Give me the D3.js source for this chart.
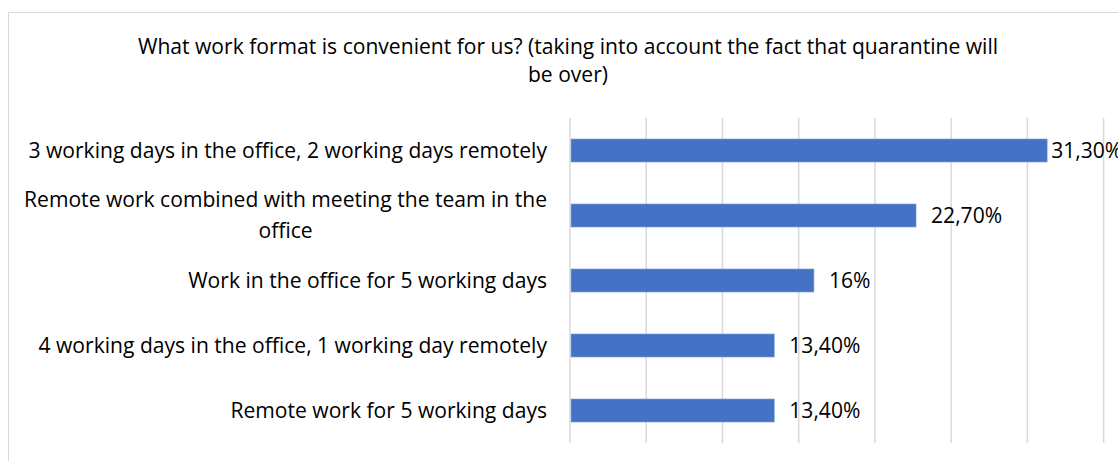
<!DOCTYPE html>
<html><head><meta charset="utf-8">
<script src="https://cdn.jsdelivr.net/npm/d3@7"></script>
<style>
html,body{margin:0;padding:0;background:#fff;}
svg{display:block;font-family:"Open Sans",Lato,sans-serif;}
</style></head>
<body><svg id="c" width="1118" height="461"></svg>
<script>
const titleLines = ["What work format is convenient for us? (taking into account the fact that quarantine will", "be over)"];
const categories = [
  ["3 working days in the office, 2 working days remotely"],
  ["Remote work combined with meeting the team in the", "office"],
  ["Work in the office for 5 working days"],
  ["4 working days in the office, 1 working day remotely"],
  ["Remote work for 5 working days"]
];
const values = [0.313, 0.227, 0.16, 0.134, 0.134];
const valueLabels = ["31,30%", "22,70%", "16%", "13,40%", "13,40%"];
const gridTicks = [0, 0.05, 0.10, 0.15, 0.20, 0.25, 0.30, 0.35];

const W = 1118, H = 461;
const svg = d3.select("#c");

// fit font size so the longest label matches the reference width
const probe = svg.append("text").attr("font-size", 20).text(categories[0][0]);
const fs = 20 * 519 / probe.node().getComputedTextLength();
probe.remove();

// chart frame
svg.append("path").attr("d", `M8.5,${H} V12.5 H${W}`).attr("fill","none").attr("stroke","#d9d9d9").attr("stroke-width",1);

// title
svg.append("text").attr("x", 568).attr("y", 47).attr("dy","0.35em").attr("text-anchor","middle")
  .attr("font-size", fs).attr("fill","#000")
  .selectAll("tspan").data(titleLines).join("tspan")
  .attr("x", 568).attr("dy", (d,i)=> i===0 ? "0.35em" : 28).text(d=>d);

const x = d3.scaleLinear().domain([0, 0.35]).range([570, 1103.6]);
const y = d3.scaleBand().domain(d3.range(categories.length)).range([118, 443]).paddingInner(0.645).paddingOuter(0.3225);

// gridlines
svg.append("g").selectAll("line").data(gridTicks).join("line")
  .attr("x1", d=>x(d)).attr("x2", d=>x(d)).attr("y1", 118).attr("y2", 443)
  .attr("stroke","#d9d9d9").attr("stroke-width",1.5);

// bars
svg.append("g").selectAll("rect").data(values).join("rect")
  .attr("x", x(0)+1).attr("y", (d,i)=>y(i)).attr("width", d=>x(d)-x(0)-1).attr("height", y.bandwidth())
  .attr("fill","#4472c4").attr("stroke","#8faadc").attr("stroke-width",0.6);

// category labels
categories.forEach((lines, i) => {
  const cy = y(i) + y.bandwidth()/2;
  const lh = 31;
  const t = svg.append("text").attr("font-size", fs).attr("fill","#000").attr("text-anchor","middle");
  const tsp = lines.map((ln) => t.append("tspan").text(ln));
  const widths = tsp.map(s => s.node().getComputedTextLength());
  const maxW = d3.max(widths);
  const right = 547;
  tsp.forEach((s, k) => {
    s.attr("x", right - maxW/2).attr("y", cy + (k - (lines.length-1)/2)*lh).attr("dy","0.35em");
  });
});

// value labels
values.forEach((v, i) => {
  const cy = y(i) + y.bandwidth()/2;
  const t = svg.append("text").attr("font-size", fs).attr("fill","#000").attr("dy","0.35em").attr("y", cy).text(valueLabels[i]);
  const tw = t.node().getComputedTextLength();
  let px = x(v) + 15;
  if (px + tw > W + 2) px = x(v) + 4;
  t.attr("x", px);
});
</script></body></html>
